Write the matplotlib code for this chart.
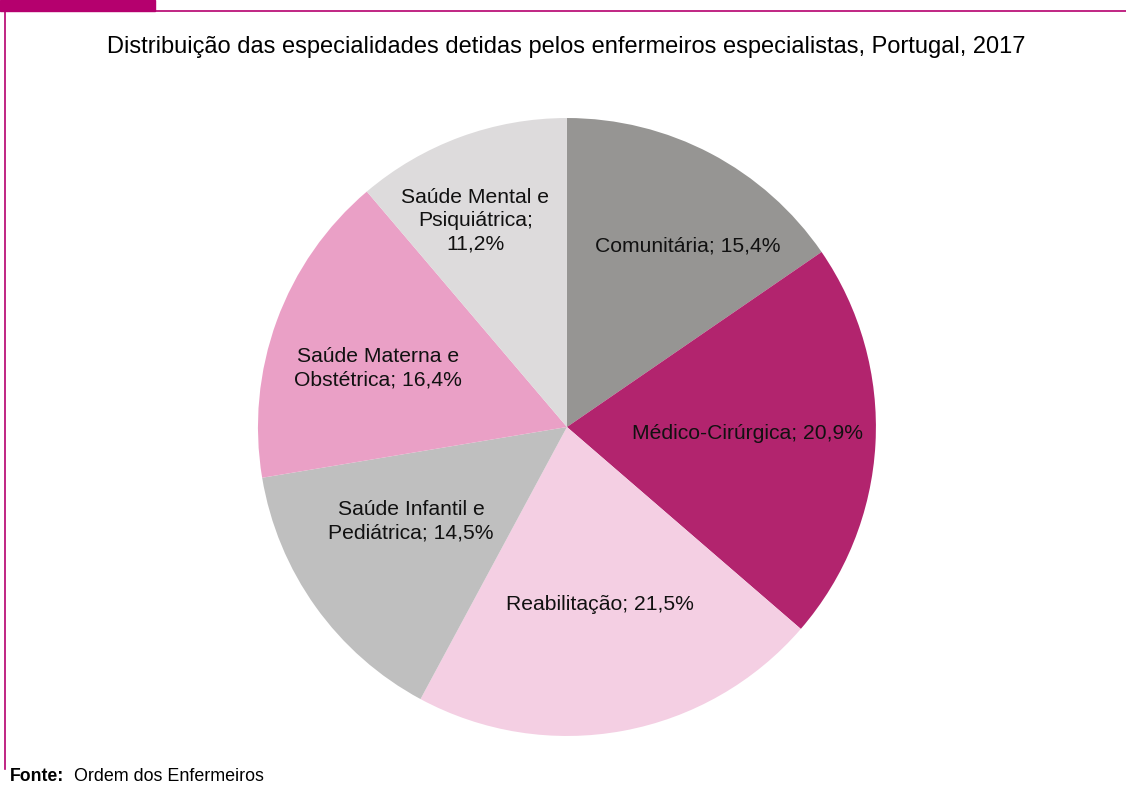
import numpy as np
import matplotlib
matplotlib.use('Agg')
import matplotlib.pyplot as plt

plt.rcParams['font.family'] = ['Liberation Sans', 'DejaVu Sans']

names = ['Comunitária', 'Médico-Cirúrgica', 'Reabilitação',
         'Saúde Infantil e\nPediátrica', 'Saúde Materna e\nObstétrica',
         'Saúde Mental e\nPsiquiátrica;']
shares = [15.4, 20.9, 21.5, 14.5, 16.4, 11.2]
colors = ['#969593', '#b2246e', '#f4cfe3', '#bfbfbf', '#eaa0c6', '#dddbdc']
# label placement (fraction of radius, angle in degrees)
lab_r = [0.705, 0.586, 0.585, 0.59, 0.64, 0.73]
lab_ang = [56.2, -2.2, -79.4, -148.8, 162.7, 114.0]

fig = plt.figure(figsize=(11.26, 7.85), dpi=100)
ax = fig.add_axes([0.2291, 0.0624, 0.5488, 0.7873])
ax.pie(shares, colors=colors, startangle=90, counterclock=False, radius=1)
ax.set_xlim(-1, 1)
ax.set_ylim(-1, 1)
ax.set_aspect('equal')

for n, v, r, a in zip(names, shares, lab_r, lab_ang):
    s = f'{v:.1f}%'.replace('.', ',')
    if n.endswith(';'):
        txt = n + '\n' + s
    else:
        txt = n + '; ' + s
    t = np.deg2rad(a)
    ax.text(r * np.cos(t), r * np.sin(t), txt, ha='center', va='center',
            fontsize=15.2, color='#111111', linespacing=1.3)

fig.text(0.503, 0.94, 'Distribuição das especialidades detidas pelos enfermeiros especialistas, Portugal, 2017',
         ha='center', va='center', fontsize=17)
fig.text(0.009, 0.011, 'Fonte:', fontsize=12.7, fontweight='bold', va='center')
fig.text(0.066, 0.011, 'Ordem dos Enfermeiros', fontsize=12.9, va='center')

# frame lines
mag = '#b5006e'
fig.add_artist(plt.Line2D([0.004, 1], [0.986, 0.986], color=mag, lw=1.2))
fig.add_artist(plt.Line2D([0.004, 0.004], [0.02, 0.986], color=mag, lw=1.2))
fig.add_artist(plt.Rectangle((0, 0.986), 0.138, 0.014, color=mag))

plt.savefig('out.png')
